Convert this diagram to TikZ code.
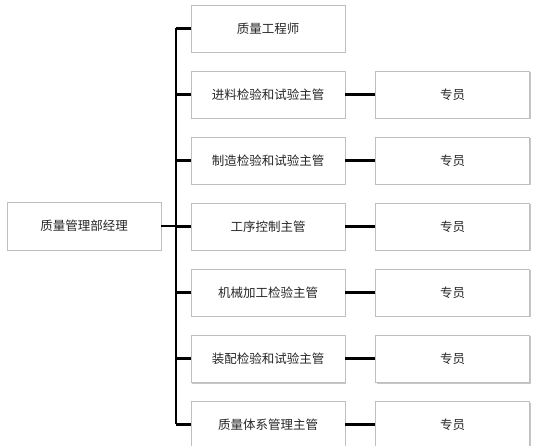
\documentclass[tikz,border=0pt]{standalone}
\usepackage{fontspec}
\setmainfont{Noto Sans CJK SC}
\usetikzlibrary{positioning,shadows}

\tikzset{
  box/.style={draw=gray!50, line width=0.6pt, fill=white, minimum width=154pt, minimum height=47pt,
    inner sep=0pt, font=\fontsize{12.5}{13}\selectfont, text=black!85,
    drop shadow={shadow xshift=1.3pt, shadow yshift=-1.5pt, fill=gray!55, opacity=0.8}},
  link/.style={line width=2.6pt, black}
}

\begin{document}
\begin{tikzpicture}[x=1pt, y=-1pt]
\useasboundingbox (0,0) rectangle (541,446);
\node[box, minimum height=48pt] (mgr) at (84,226) {质量管理部经理};
\coordinate (bartop) at (176,28.5);
\coordinate (barbot) at (176,424);
\draw[link] (bartop) -- (barbot);
\draw[link] (mgr.east) -- (mgr.east -| bartop);
\foreach \i/\t in {0/质量工程师,1/进料检验和试验主管,2/制造检验和试验主管,3/工序控制主管,4/机械加工检验主管,5/装配检验和试验主管,6/质量体系管理主管}
{   \node[box] (m\i) at (268,28.5+66*\i) {\t};
    \draw[link] (m\i.west) -- (m\i.west -| bartop);
}
\foreach \i in {1,...,6}
{   \node[box, right=30pt of m\i] (s\i) {专员};
    \draw[link] (m\i.east) -- (s\i.west);
}
\end{tikzpicture}
\end{document}
